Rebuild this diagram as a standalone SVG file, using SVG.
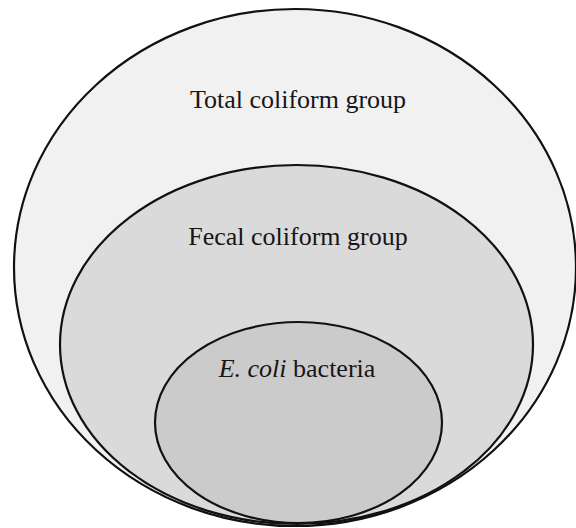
<svg xmlns="http://www.w3.org/2000/svg" width="576" height="528" viewBox="0 0 576 528">
<style>
.e{stroke:#111;stroke-width:2.2}
.t{font-family:"Liberation Serif","Times New Roman",serif;font-size:26px;fill:#161616;text-anchor:middle}
</style>
<rect width="576" height="528" fill="#fff"/>
<g id="total">
<ellipse class="e" cx="295" cy="267.5" rx="281" ry="258.5" fill="#f1f1f1"/>
<text class="t" x="298" y="108">Total coliform group</text>
</g>
<g id="fecal">
<ellipse class="e" cx="296.5" cy="344.5" rx="236.5" ry="179.5" fill="#dadada"/>
<text class="t" x="298" y="245">Fecal coliform group</text>
</g>
<g id="ecoli">
<ellipse class="e" cx="298.5" cy="422.5" rx="143.5" ry="100.5" fill="#cbcbcb"/>
<text class="t" x="297" y="377"><tspan font-style="italic">E. coli</tspan> bacteria</text>
</g>
<g id="connectors"/>
</svg>
